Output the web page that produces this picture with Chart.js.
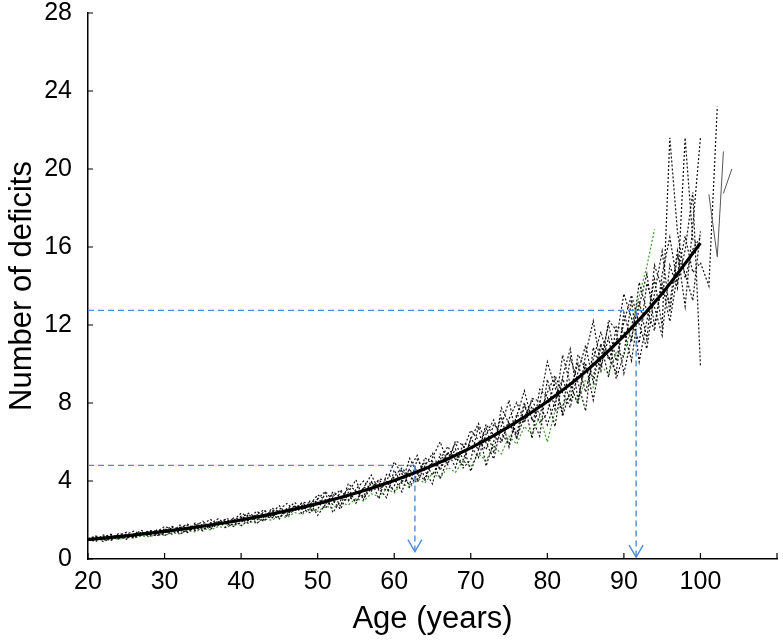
<!DOCTYPE html>
<html>
<head>
<meta charset="utf-8">
<script src="https://cdn.jsdelivr.net/npm/chart.js@4.4.0/dist/chart.umd.min.js"></script>
<style>
  html, body { margin: 0; padding: 0; background: #fff; }
</style>
</head>
<body>
<canvas id="chart" width="783" height="644"></canvas>
<script>
// ages 20..100, one point per year
const ages = [];
for (let a = 20; a <= 100; a++) ages.push(a);

// fitted mean curve (thick black)
const meanAges = [20, 25, 30, 35, 40, 45, 50, 55, 60, 65, 70, 75, 80, 85, 90, 95, 100];
const meanVals = [1.0, 1.19, 1.42, 1.69, 2.0, 2.39, 2.84, 3.38, 4.03, 4.79, 5.70, 6.79, 8.08, 9.61, 11.44, 13.62, 16.2];

// individual runs (dotted black), one value per age
const runA = [
  1.02,0.98,1.23,1.11,1.03,1.27,1.43,1.24,1.38,1.21,
  1.31,1.64,1.27,1.51,1.77,1.49,1.81,2.06,1.79,1.97,
  2.35,2.16,1.96,2.46,2.27,2.05,2.62,2.45,2.92,2.86,
  2.24,2.79,3.35,2.70,3.87,3.46,3.20,4.01,3.08,4.34,
  4.14,3.44,4.64,5.31,4.11,5.00,4.12,5.14,5.95,5.09,
  6.15,6.95,5.96,5.13,6.85,8.14,6.13,7.88,7.23,6.30,
  9.21,7.69,10.46,8.97,7.93,10.51,12.20,9.86,11.35,9.25,
  10.48,13.29,10.11,12.22,14.35,11.94,21.60,16.76,14.40,15.89,
  16.50];
const runB = [
  0.98,1.16,0.89,1.07,1.25,1.05,1.27,1.46,1.26,1.39,
  1.67,1.53,1.38,1.74,1.60,1.44,1.86,1.73,2.07,2.02,
  1.71,2.00,2.30,2.00,2.61,2.43,2.32,2.75,2.31,2.98,
  2.89,2.59,3.20,3.55,3.02,3.48,3.10,3.63,4.05,3.69,
  4.24,4.66,4.25,3.91,4.77,5.42,4.54,5.42,5.18,4.81,
  6.20,5.60,6.91,6.33,5.95,7.19,8.03,7.08,7.83,7.00,
  7.48,9.26,7.31,8.67,10.03,8.56,10.25,11.66,10.22,11.20,
  13.60,12.33,11.07,14.14,12.91,11.46,15.06,13.88,21.60,16.37,
  16.00];
const runC = [
  1.05,1.08,0.97,1.23,1.13,1.01,1.31,1.22,1.46,1.43,
  1.20,1.41,1.63,1.40,1.85,1.72,1.64,1.95,1.62,2.11,
  2.05,1.81,2.26,2.53,2.12,2.47,2.17,2.56,2.88,2.60,
  3.07,3.47,2.98,2.55,3.42,4.06,3.05,3.93,3.60,3.14,
  4.56,3.86,5.16,4.47,4.00,5.21,6.01,4.93,5.64,4.67,
  5.10,6.80,4.76,6.03,7.30,5.74,7.33,8.63,7.08,7.95,
  10.11,8.81,7.54,10.32,9.06,7.59,10.85,9.64,12.25,11.73,
  9.52,11.37,13.23,11.26,15.07,13.86,13.14,15.80,12.96,17.09,
  21.60];
const runD = [
  0.97,1.00,1.15,0.99,1.31,1.21,1.15,1.38,1.14,1.49,
  1.45,1.27,1.60,1.79,1.49,1.75,1.53,1.81,2.04,1.83,
  2.12,2.35,2.11,1.93,2.39,2.73,2.24,2.71,2.57,2.37,
  3.09,2.79,3.45,3.15,2.97,3.58,4.00,3.53,3.90,3.49,
  3.75,4.59,3.69,4.33,4.98,4.30,5.10,5.77,5.11,5.58,
  6.60,6.10,5.61,6.93,6.45,5.89,7.43,6.98,8.23,8.10,
  6.88,8.06,9.26,8.07,10.48,9.76,9.35,11.06,9.32,11.95,
  11.68,10.17,12.99,14.62,11.95,14.10,12.18,14.60,16.56,14.69,
  15.20];
const runDTailAges = [101.1, 102.2];
const runDTailVals = [14.0, 23.2];
const runE = [
  1.00,0.90,1.13,1.27,1.05,1.23,1.07,1.28,1.44,1.29,
  1.50,1.67,1.49,1.35,1.69,1.94,1.58,1.92,1.81,1.66,
  2.20,1.97,2.45,2.23,2.08,2.54,2.85,2.48,2.76,2.45,
  2.54,3.39,2.38,3.00,3.65,2.86,3.65,4.31,3.53,3.97,
  4.98,4.38,3.80,5.10,4.53,3.85,5.38,4.83,6.06,5.83,
  4.50,5.60,6.71,5.43,7.75,6.94,6.43,8.03,6.18,8.70,
  8.31,6.79,9.34,10.77,8.16,10.06,8.15,10.31,12.02,10.15,
  12.16,13.53,12.03,10.78,13.63,15.78,12.66,15.56,14.64,13.25,
  16.80];
const runF = [
  1.04,1.18,1.05,0.95,1.19,1.37,1.11,1.36,1.28,1.17,
  1.56,1.39,1.74,1.57,1.46,1.80,2.03,1.75,1.95,1.72,
  1.86,2.31,1.81,2.15,2.50,2.12,2.55,2.90,2.54,2.79,
  3.29,3.04,2.80,3.45,3.22,2.93,3.70,3.48,4.10,4.04,
  3.47,4.03,4.60,4.05,5.19,4.86,4.68,5.49,4.69,5.93,
  5.80,5.20,6.41,7.13,6.05,6.99,6.23,7.28,8.13,7.40,
  8.53,9.41,8.51,7.77,9.58,10.96,9.05,10.91,10.37,9.55,
  12.64,11.13,14.19,12.70,11.71,14.58,16.50,14.12,15.84,18.81,
  9.90];
// green dotted run, ages 20..94
const runGreen = [
  0.95,1.00,0.97,1.05,1.01,1.12,1.07,1.18,1.14,1.26,
  1.21,1.34,1.29,1.45,1.39,1.55,1.49,1.66,1.61,1.78,
  1.73,1.92,1.85,2.05,1.99,2.20,2.13,2.38,2.29,2.55,
  2.44,2.70,2.61,2.90,2.77,3.10,2.97,3.35,3.19,3.60,
  3.39,3.90,3.64,4.15,3.89,4.40,4.14,4.70,4.44,5.05,
  4.74,5.40,5.04,5.80,5.39,6.30,5.89,6.80,6.39,7.30,
  6.00,7.60,7.90,8.40,8.10,9.20,8.80,9.90,9.50,10.60,
  10.40,12.00,13.50,15.00,16.90];
// thin solid grey pieces past 100
const solid1Ages = [101.1, 102.2, 103.0];
const solid1Vals = [18.7, 15.5, 20.9];
const solid2Ages = [103.0, 104.1];
const solid2Vals = [18.75, 20.0];

// blue guide lines: level, age where the arrow drops
const guideLevels = [4.8, 12.75];
const guideAges = [62.7, 91.6];
const guideEnds = [62.5, 93.4];
const arrowTips = [0.38, 0.1];

const blue = '#4a8dd8';
const font = 'Liberation Sans, Arial, Helvetica, sans-serif';

function pts(xs, ys) {
  return ys.map((v, i) => ({ x: xs[i], y: v }));
}

function dotted(vals, xs, color) {
  return {
    data: pts(xs, vals),
    borderColor: color || '#111',
    borderWidth: 1.2,
    borderDash: [2, 2],
    pointRadius: 0,
    tension: 0,
    order: 3
  };
}

const datasets = [
  {
    data: pts(meanAges, meanVals),
    borderColor: '#000',
    borderWidth: 3.2,
    pointRadius: 0,
    cubicInterpolationMode: 'monotone',
    order: 0
  },
  dotted(runA, ages),
  dotted(runB, ages),
  dotted(runC, ages),
  dotted(runD.concat(runDTailVals), ages.concat(runDTailAges)),
  dotted(runE, ages),
  dotted(runF, ages),
  dotted(runGreen, ages, '#3f9a2e'),
  { data: pts(solid1Ages, solid1Vals), borderColor: '#555', borderWidth: 1, pointRadius: 0, order: 2 },
  { data: pts(solid2Ages, solid2Vals), borderColor: '#555', borderWidth: 1, pointRadius: 0, order: 2 }
];

guideLevels.forEach((lv, i) => {
  datasets.push({
    data: [{ x: 20, y: lv }, { x: guideEnds[i], y: lv }],
    borderColor: blue, borderWidth: 1.4, borderDash: [6, 4], pointRadius: 0, order: 1
  });
  datasets.push({
    data: [{ x: guideAges[i], y: lv }, { x: guideAges[i], y: arrowTips[i] }],
    borderColor: blue, borderWidth: 1.4, borderDash: [6, 4], pointRadius: 0, order: 1
  });
});

// inward tick marks + open arrow heads
const extras = {
  id: 'extras',
  afterDraw(chart) {
    const { ctx, chartArea: a } = chart;
    const x = chart.scales.x, y = chart.scales.y;
    ctx.save();
    ctx.strokeStyle = '#000';
    ctx.lineWidth = 1.2;
    ctx.beginPath();
    x.ticks.forEach(t => {
      const px = x.getPixelForValue(t.value);
      ctx.moveTo(px, a.bottom);
      ctx.lineTo(px, a.bottom - 6);
    });
    y.ticks.forEach(t => {
      const py = y.getPixelForValue(t.value);
      ctx.moveTo(a.left, py);
      ctx.lineTo(a.left + 5, py);
    });
    ctx.stroke();

    ctx.strokeStyle = blue;
    ctx.lineWidth = 1.4;
    guideAges.forEach((g, i) => {
      const px = x.getPixelForValue(g);
      const py = y.getPixelForValue(arrowTips[i]);
      ctx.beginPath();
      ctx.moveTo(px - 7, py - 12);
      ctx.lineTo(px, py);
      ctx.lineTo(px + 7, py - 12);
      ctx.stroke();
    });
    ctx.restore();
  }
};

new Chart(document.getElementById('chart'), {
  type: 'line',
  data: { datasets },
  options: {
    responsive: false,
    animation: false,
    events: [],
    layout: { padding: { left: 0, right: 6, top: 13, bottom: 0 } },
    plugins: { legend: { display: false }, tooltip: { enabled: false } },
    scales: {
      x: {
        type: 'linear',
        min: 20, max: 110,
        afterFit: s => { s.height = 85; s.paddingLeft = 0; s.paddingRight = 0; },
        grid: { display: false, drawTicks: false },
        border: { display: true, color: '#000', width: 1.5 },
        ticks: {
          stepSize: 10,
          padding: 8,
          color: '#000',
          font: { family: font, size: 25 },
          maxRotation: 0,
          callback: v => (v > 100 ? '' : v)
        },
        title: {
          display: true,
          text: 'Age (years)',
          color: '#000',
          font: { family: font, size: 31 },
          padding: { top: 0, bottom: 6 }
        }
      },
      y: {
        min: 0, max: 28,
        afterFit: s => { s.width = 88; s.paddingTop = 0; s.paddingBottom = 0; },
        grid: { display: false, drawTicks: false },
        border: { display: true, color: '#000', width: 1.5 },
        ticks: {
          stepSize: 4,
          padding: 16,
          color: '#000',
          font: { family: font, size: 25 }
        },
        title: {
          display: true,
          text: 'Number of deficits',
          color: '#000',
          font: { family: font, size: 31 },
          padding: { top: 4, bottom: 0 }
        }
      }
    }
  },
  plugins: [extras]
});
</script>
</body>
</html>
